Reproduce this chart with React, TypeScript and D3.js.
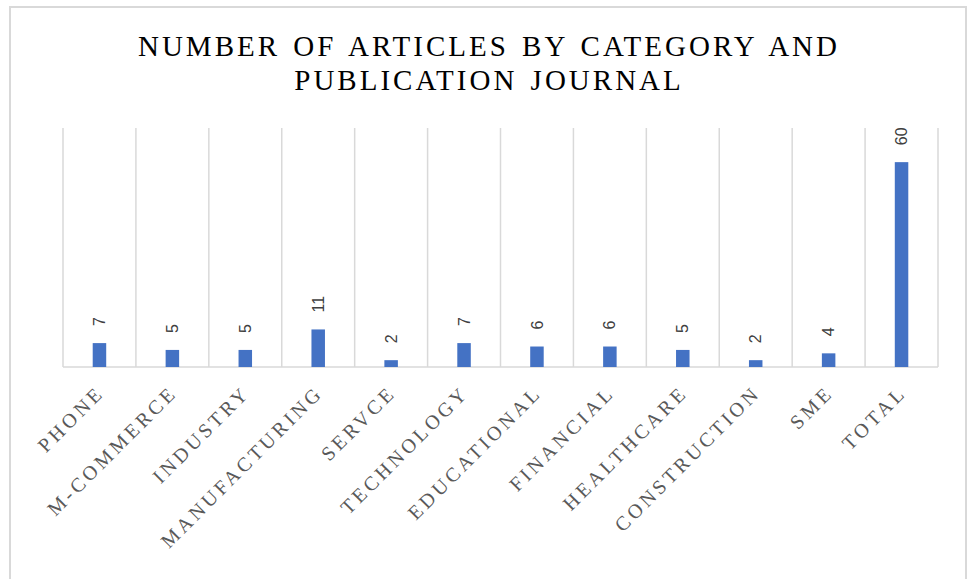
import React from "react";
import * as d3 from "d3";

const categories = ["PHONE", "M-COMMERCE", "INDUSTRY", "MANUFACTURING", "SERVCE", "TECHNOLOGY", "EDUCATIONAL", "FINANCIAL", "HEALTHCARE", "CONSTRUCTION", "SME", "TOTAL"];
const values = [7, 5, 5, 11, 2, 7, 6, 6, 5, 2, 4, 60];
const titleLines = ["NUMBER OF ARTICLES BY CATEGORY AND", "PUBLICATION JOURNAL"];

const W = 968, H = 579;

export default function App() {
  const x = d3.scaleBand<string>().domain(categories).range([63, 938]);
  const y = d3.scaleLinear().domain([0, 70]).range([367, 128]);
  const bw = 13.5;
  const gridXs = categories.map((c) => x(c)!).concat([x.range()[1]]);
  return (
    <svg width={W} height={H} style={{ position: "absolute", left: 0, top: 0 }}>
      <rect x={0} y={0} width={W} height={H} fill="#fff" />
      <rect x={10} y={7} width={956} height={H} fill="#fff" stroke="#d9d9d9" strokeWidth={2} />
      {titleLines.map((t, i) => (
        <text key={i} x={489} y={56 + i * 34} textAnchor="middle" fontFamily="'Liberation Serif', serif" fontSize={29} letterSpacing={3} wordSpacing={3} fill="#000">{t}</text>
      ))}
      {gridXs.map((gx, i) => (
        <line key={i} x1={gx} x2={gx} y1={y(70)} y2={y(0)} stroke="#d9d9d9" strokeWidth={1.5} />
      ))}
      <line x1={63} x2={938} y1={y(0)} y2={y(0)} stroke="#d9d9d9" strokeWidth={1.5} />
      {categories.map((c, i) => {
        const cx = x(c)! + x.bandwidth() / 2;
        return (
          <g key={c}>
            <rect x={cx - bw / 2} y={y(values[i])} width={bw} height={y(0) - y(values[i])} fill="#4472c4" />
            <text transform={`translate(${cx},${y(values[i]) - 17}) rotate(-90)`} dy="0.35em" textAnchor="start" fontFamily="'Liberation Sans', Arial, sans-serif" fontSize={16} fill="#404040">{values[i]}</text>
            <text transform={`translate(${cx + 6},${y(0) + 27}) rotate(-45)`} textAnchor="end" fontFamily="'Liberation Serif', serif" fontSize={20} letterSpacing={3.5} fill="#595959">{c}</text>
          </g>
        );
      })}
    </svg>
  );
}
